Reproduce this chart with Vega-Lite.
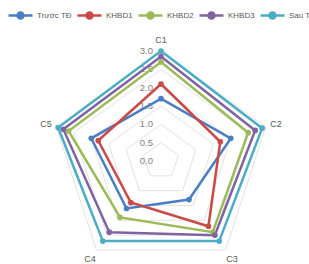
{
  "$schema": "https://vega.github.io/schema/vega-lite/v6.json",
  "width": 309,
  "height": 264,
  "autosize": "none",
  "padding": 0,
  "background": "white",
  "config": {
    "view": {"stroke": null},
    "font": "Liberation Sans",
    "legend": {
      "orient": "none", "legendX": 7, "legendY": 2, "direction": "horizontal", "gridAlign": "none",
      "title": null, "padding": 0, "columnPadding": 0, "labelOffset": 3,
      "symbolType": "M-1,0L1,0M-0.25,0A0.25,0.25,0,1,1,0.25,0A0.25,0.25,0,1,1,-0.25,0Z",
      "symbolSize": 576, "symbolStrokeWidth": 2.5,
      "labelFontSize": 8, "labelColor": "#595959", "labelFont": "Liberation Sans"
    }
  },
  "datasets": {
    "series": [
      {"series": "Trước TĐ", "axis": "C1", "value": 1.7},
      {"series": "Trước TĐ", "axis": "C2", "value": 2.0},
      {"series": "Trước TĐ", "axis": "C3", "value": 1.3},
      {"series": "Trước TĐ", "axis": "C4", "value": 1.6},
      {"series": "Trước TĐ", "axis": "C5", "value": 2.0},
      {"series": "KHBD1", "axis": "C1", "value": 2.1},
      {"series": "KHBD1", "axis": "C2", "value": 1.7},
      {"series": "KHBD1", "axis": "C3", "value": 2.2},
      {"series": "KHBD1", "axis": "C4", "value": 1.4},
      {"series": "KHBD1", "axis": "C5", "value": 1.8},
      {"series": "KHBD2", "axis": "C1", "value": 2.7},
      {"series": "KHBD2", "axis": "C2", "value": 2.5},
      {"series": "KHBD2", "axis": "C3", "value": 2.4},
      {"series": "KHBD2", "axis": "C4", "value": 1.9},
      {"series": "KHBD2", "axis": "C5", "value": 2.65},
      {"series": "KHBD3", "axis": "C1", "value": 2.85},
      {"series": "KHBD3", "axis": "C2", "value": 2.7},
      {"series": "KHBD3", "axis": "C3", "value": 2.5},
      {"series": "KHBD3", "axis": "C4", "value": 2.4},
      {"series": "KHBD3", "axis": "C5", "value": 2.8},
      {"series": "Sau TĐ", "axis": "C1", "value": 3.0},
      {"series": "Sau TĐ", "axis": "C2", "value": 2.9},
      {"series": "Sau TĐ", "axis": "C3", "value": 2.7},
      {"series": "Sau TĐ", "axis": "C4", "value": 2.7},
      {"series": "Sau TĐ", "axis": "C5", "value": 2.95}
    ],
    "grid": [
      {"level": 0.5, "axis": "C1"}, {"level": 0.5, "axis": "C2"}, {"level": 0.5, "axis": "C3"}, {"level": 0.5, "axis": "C4"}, {"level": 0.5, "axis": "C5"},
      {"level": 1.0, "axis": "C1"}, {"level": 1.0, "axis": "C2"}, {"level": 1.0, "axis": "C3"}, {"level": 1.0, "axis": "C4"}, {"level": 1.0, "axis": "C5"},
      {"level": 1.5, "axis": "C1"}, {"level": 1.5, "axis": "C2"}, {"level": 1.5, "axis": "C3"}, {"level": 1.5, "axis": "C4"}, {"level": 1.5, "axis": "C5"},
      {"level": 2.0, "axis": "C1"}, {"level": 2.0, "axis": "C2"}, {"level": 2.0, "axis": "C3"}, {"level": 2.0, "axis": "C4"}, {"level": 2.0, "axis": "C5"},
      {"level": 2.5, "axis": "C1"}, {"level": 2.5, "axis": "C2"}, {"level": 2.5, "axis": "C3"}, {"level": 2.5, "axis": "C4"}, {"level": 2.5, "axis": "C5"},
      {"level": 3.0, "axis": "C1"}, {"level": 3.0, "axis": "C2"}, {"level": 3.0, "axis": "C3"}, {"level": 3.0, "axis": "C4"}, {"level": 3.0, "axis": "C5"}
    ],
    "levels": [
      {"label": "0.0", "level": 0}, {"label": "0.5", "level": 0.5}, {"label": "1.0", "level": 1},
      {"label": "1.5", "level": 1.5}, {"label": "2.0", "level": 2}, {"label": "2.5", "level": 2.5}, {"label": "3.0", "level": 3}
    ],
    "cats": [{"axis": "C1"}, {"axis": "C2"}, {"axis": "C3"}, {"axis": "C4"}, {"axis": "C5"}]
  },
  "layer": [
    {
      "data": {"name": "grid"},
      "transform": [
        {"calculate": "indexof(['C1','C2','C3','C4','C5'], datum.axis) * 2 * PI / 5", "as": "ang"},
        {"calculate": "datum.level * sin(datum.ang)", "as": "px"},
        {"calculate": "datum.level * cos(datum.ang)", "as": "py"}
      ],
      "mark": {"type": "line", "interpolate": "linear-closed", "stroke": "#E3E3E3", "strokeWidth": 1},
      "encoding": {
        "x": {"field": "px", "type": "quantitative", "scale": {"domain": [-3, 3], "range": [51, 271]}, "axis": null},
        "y": {"field": "py", "type": "quantitative", "scale": {"domain": [-3, 3], "range": [271, 51]}, "axis": null},
        "detail": {"field": "level"},
        "order": {"field": "ang"}
      }
    },
    {
      "data": {"name": "levels"},
      "mark": {"type": "text", "align": "right", "baseline": "middle", "dx": -8, "fontSize": 9.5, "color": "#7F7F7F"},
      "transform": [{"calculate": "0", "as": "px"}],
      "encoding": {
        "x": {"field": "px", "type": "quantitative", "scale": {"domain": [-3, 3], "range": [51, 271]}, "axis": null},
        "y": {"field": "level", "type": "quantitative", "scale": {"domain": [-3, 3], "range": [271, 51]}, "axis": null},
        "text": {"field": "label"}
      }
    },
    {
      "data": {"name": "cats"},
      "transform": [
        {"calculate": "indexof(['C1','C2','C3','C4','C5'], datum.axis) * 2 * PI / 5", "as": "ang"},
        {"calculate": "3.3 * sin(datum.ang)", "as": "px"},
        {"calculate": "3.3 * cos(datum.ang)", "as": "py"}
      ],
      "mark": {"type": "text", "align": "center", "baseline": "middle", "fontSize": 9, "color": "#595959"},
      "encoding": {
        "x": {"field": "px", "type": "quantitative", "scale": {"domain": [-3, 3], "range": [51, 271]}, "axis": null},
        "y": {"field": "py", "type": "quantitative", "scale": {"domain": [-3, 3], "range": [271, 51]}, "axis": null},
        "text": {"field": "axis"}
      }
    },
    {
      "data": {"name": "series"},
      "transform": [
        {"calculate": "indexof(['C1','C2','C3','C4','C5'], datum.axis) * 2 * PI / 5", "as": "ang"},
        {"calculate": "datum.value * sin(datum.ang)", "as": "px"},
        {"calculate": "datum.value * cos(datum.ang)", "as": "py"}
      ],
      "layer": [
        {
          "mark": {"type": "line", "interpolate": "linear-closed", "strokeWidth": 2.5},
          "encoding": {
            "x": {"field": "px", "type": "quantitative", "scale": {"domain": [-3, 3], "range": [51, 271]}, "axis": null},
            "y": {"field": "py", "type": "quantitative", "scale": {"domain": [-3, 3], "range": [271, 51]}, "axis": null},
            "color": {
              "field": "series", "type": "nominal",
              "scale": {"domain": ["Trước TĐ", "KHBD1", "KHBD2", "KHBD3", "Sau TĐ"], "range": ["#4A7EC2", "#C94A47", "#9BBB59", "#8064A2", "#4BACC6"]},
              "legend": {
                "encode": {"symbols": {"update": {"stroke": {"scale": "color", "field": "value"}, "fill": {"scale": "color", "field": "value"}, "opacity": {"value": 1}}}}
              }
            },
            "order": {"field": "ang"}
          }
        },
        {
          "mark": {"type": "point", "filled": true, "size": 32, "opacity": 1},
          "encoding": {
            "x": {"field": "px", "type": "quantitative", "scale": {"domain": [-3, 3], "range": [51, 271]}, "axis": null},
            "y": {"field": "py", "type": "quantitative", "scale": {"domain": [-3, 3], "range": [271, 51]}, "axis": null},
            "color": {"field": "series", "type": "nominal"}
          }
        }
      ]
    }
  ]
}
